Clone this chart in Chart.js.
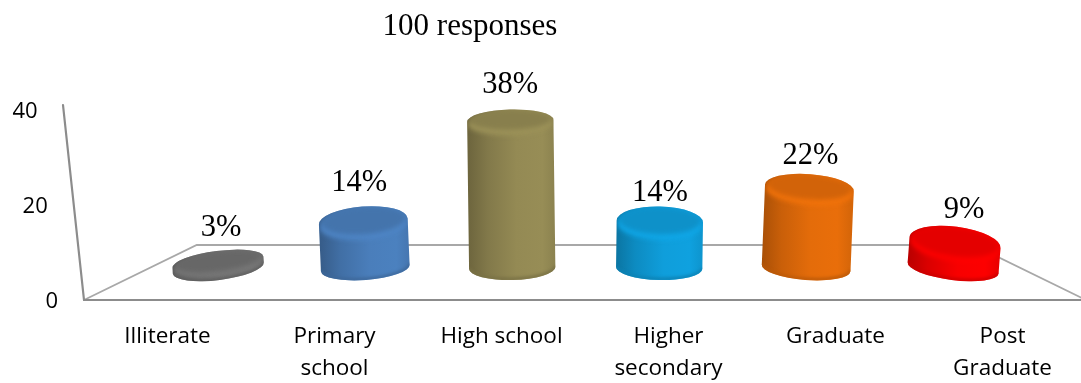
<!DOCTYPE html>
<html>
<head>
<meta charset="utf-8">
<style>
  html, body { margin: 0; padding: 0; background: #fff; overflow: hidden; }
  #wrap { width: 1081px; height: 383px; overflow: hidden; }
</style>
<script src="https://cdn.jsdelivr.net/npm/chart.js@4"></script>
</head>
<body>
<div id="wrap"><canvas id="c" width="1088" height="383"></canvas></div>
<script>
// Education level of the 100 respondents, drawn as 3-D cylinders on a receding floor.
const categories = ['Illiterate', ['Primary', 'school'], 'High school', ['Higher', 'secondary'], 'Graduate', ['Post', 'Graduate']];
const percentages = [3, 14, 38, 14, 22, 9];
const barColors = ['#707070', '#4a7ebb', '#948a54', '#0f9edb', '#e46c0a', '#f80000'];
const subtitle = '100 responses';

// Layout tuning for the pseudo-perspective.
const DEPTH = 0.88;          // how far the back row is pulled towards the centre
const HEIGHT_SCALE = 0.85;   // cylinders sit further back than the axis, so they read shorter
const FLOOR_Y = 268;         // centre of the cylinder bases
const RY = 12;               // vertical radius of the base ellipse
const labelLift = [23, 23, 25, 13, 18, 17];
const labelNudge = [3, -4, 0, 0, 1, 9];

function shade(hex, f) {
  const n = parseInt(hex.slice(1), 16);
  const ch = s => Math.max(0, Math.min(255, Math.round(((n >> s) & 255) * f)));
  return `rgb(${ch(16)},${ch(8)},${ch(0)})`;
}

const cylinderPlugin = {
  id: 'cylinders',
  beforeDatasetsDraw(chart) {
    const { ctx, chartArea: a, scales: { y } } = chart;
    const cx = (a.left + a.right) / 2;
    const backY = 245;
    const backHalf = (a.right - a.left) / 2 * 0.775;
    ctx.save();
    ctx.lineCap = 'round';
    // floor outline, back edge and sides
    ctx.strokeStyle = '#a8a8a8';
    ctx.lineWidth = 1.8;
    ctx.beginPath();
    ctx.moveTo(a.left, a.bottom);
    ctx.lineTo(cx - backHalf, backY);
    ctx.lineTo(cx + backHalf, backY);
    ctx.lineTo(a.right, a.bottom);
    ctx.stroke();
    // front edge
    ctx.strokeStyle = '#8c8c8c';
    ctx.lineWidth = 2.2;
    ctx.beginPath();
    ctx.moveTo(a.left, a.bottom);
    ctx.lineTo(a.right, a.bottom);
    ctx.stroke();
    // slanted value axis
    ctx.beginPath();
    ctx.moveTo(a.left, a.bottom);
    ctx.lineTo(a.left - 21, y.getPixelForValue(40) - 5);
    ctx.stroke();
    // value axis labels follow the slant
    ctx.fillStyle = '#000';
    ctx.font = '22px "Open Sans"';
    ctx.textAlign = 'right';
    ctx.textBaseline = 'middle';
    y.ticks.forEach(t => {
      const py = y.getPixelForValue(t.value);
      const ax = a.left - (a.bottom - py) * 21 / 195;
      ctx.fillText(String(t.value), ax - 26, py + 2);
    });
    ctx.restore();
  },
  beforeDatasetDraw(chart, args) {
    const { ctx, chartArea: a, scales: { y } } = chart;
    const meta = args.meta;
    const cx = (a.left + a.right) / 2;
    meta.data.forEach((bar, i) => {
      const col = barColors[i];
      const dx = (bar.x - cx) * DEPTH;
      const bx = cx + dx + 0.7;
      const h = (y.getPixelForValue(0) - y.getPixelForValue(percentages[i])) * HEIGHT_SCALE - 7;
      const rx = bar.width / 2 - 0.5 + Math.abs(dx) * 0.009;
      const rot = dx * 0.00034;
      const tx = bx + dx * h * 0.00018;
      const topEdge = FLOOR_Y - h - RY;
      const ryTop = Math.min(17 - 0.04 * h, 10 + h * 0.25);
      const ty = topEdge + ryTop;
      const cs = Math.cos(rot) * rx, sn = Math.sin(rot) * rx;

      ctx.save();
      // silhouette: base half-ellipse, straight walls, rounded top
      ctx.beginPath();
      ctx.moveTo(tx - cs, ty - sn);
      ctx.lineTo(bx - cs, FLOOR_Y - sn);
      ctx.ellipse(bx, FLOOR_Y, rx, RY, rot, Math.PI, 0, true);
      ctx.lineTo(tx + cs, ty + sn);
      ctx.ellipse(tx, ty, rx, ryTop, rot, 0, Math.PI, true);
      ctx.closePath();
      ctx.clip();

      // side wall
      const g = ctx.createLinearGradient(bx - rx, 0, bx + rx, 0);
      g.addColorStop(0, shade(col, 0.74));
      g.addColorStop(0.22, shade(col, 0.88));
      g.addColorStop(0.55, shade(col, 1));
      g.addColorStop(0.85, shade(col, 1.02));
      g.addColorStop(1, shade(col, 0.94));
      ctx.fillStyle = g;
      ctx.fillRect(bx - rx - 10, topEdge - 5, rx * 2 + 20, FLOOR_Y + RY - topEdge + 15);

      // darker foot along the base
      ctx.strokeStyle = shade(col, 0.82);
      ctx.lineWidth = 3;
      ctx.filter = 'blur(1.5px)';
      ctx.beginPath();
      ctx.ellipse(bx, FLOOR_Y - 1, rx, RY, rot, Math.PI, 0, true);
      ctx.stroke();

      // cap, feathered so the shoulder reads as rounded, with a lit rim below it
      ctx.filter = 'blur(2.5px)';
      ctx.fillStyle = shade(col, 1.07);
      ctx.beginPath();
      ctx.ellipse(tx, ty + 3, rx - 1, ryTop, rot, 0, Math.PI * 2);
      ctx.fill();
      ctx.fillStyle = shade(col, 0.92);
      ctx.beginPath();
      ctx.ellipse(tx, ty - 1, rx - 2, ryTop - 1, rot, 0, Math.PI * 2);
      ctx.fill();
      ctx.restore();

      // value label above the cap
      ctx.save();
      ctx.fillStyle = '#000';
      ctx.font = '30.5px "Liberation Serif"';
      ctx.textAlign = 'center';
      ctx.textBaseline = 'middle';
      ctx.fillText(percentages[i] + '%', tx + labelNudge[i], topEdge - labelLift[i]);
      ctx.restore();
    });
    return false;
  },
  afterDraw(chart) {
    const { ctx } = chart;
    ctx.save();
    ctx.fillStyle = '#000';
    ctx.font = '31px "Liberation Serif"';
    ctx.textAlign = 'center';
    ctx.textBaseline = 'middle';
    ctx.fillText(subtitle, 470, 27);
    ctx.restore();
  }
};

new Chart(document.getElementById('c'), {
  type: 'bar',
  data: {
    labels: categories,
    datasets: [{
      data: percentages,
      backgroundColor: barColors,
      categoryPercentage: 0.515,
      barPercentage: 1
    }]
  },
  options: {
    responsive: false,
    animation: false,
    layout: { padding: { left: 84, right: 2, top: 110, bottom: 0 } },
    plugins: { legend: { display: false }, tooltip: { enabled: false } },
    scales: {
      x: {
        grid: { display: false, drawTicks: false },
        border: { display: false },
        afterFit(s) { s.height = 83; },
        ticks: {
          color: '#000',
          font: { family: '"Open Sans"', size: 22.5, lineHeight: 1.42 },
          maxRotation: 0,
          autoSkip: false,
          padding: 21
        }
      },
      y: {
        min: 0,
        max: 40,
        grid: { display: false },
        border: { display: false },
        afterFit(s) { s.width = 0; },
        ticks: { display: false, stepSize: 20 }
      }
    }
  },
  plugins: [cylinderPlugin]
});
</script>
</body>
</html>
